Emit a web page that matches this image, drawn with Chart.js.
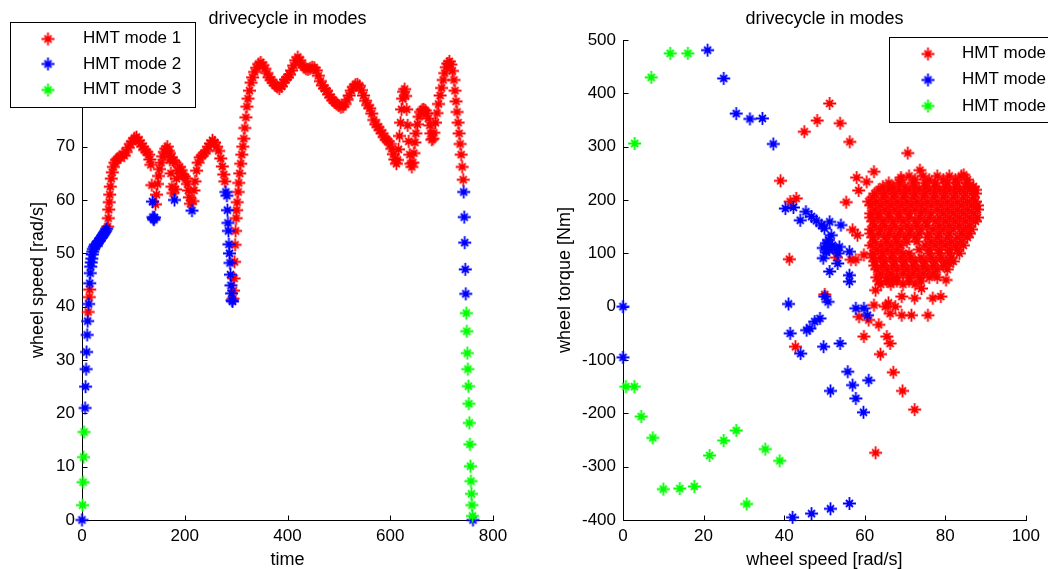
<!DOCTYPE html>
<html>
<head>
<meta charset="utf-8">
<script src="https://cdn.jsdelivr.net/npm/chart.js@4.4.1/dist/chart.umd.min.js"></script>
<style>
  body { margin: 0; background: #fff; }
  #wrap { position: relative; width: 1048px; height: 569px; overflow: hidden; }
  canvas { position: absolute; top: 0; }
  #speedChart { left: 0; }
  #torqueChart { left: 524px; }
</style>
</head>
<body>
<div id="wrap">
  <canvas id="speedChart" width="524" height="569"></canvas>
  <canvas id="torqueChart" width="524" height="569"></canvas>
</div>
<script>
const modeNames = ["HMT mode 1", "HMT mode 2", "HMT mode 3"];
const modeColors = ["#ff0000", "#0000ff", "#00ff00"];

const timeTicks = [0, 200, 400, 600, 800];
const speedTicks = [0, 10, 20, 30, 40, 50, 60, 70, 80, 90];
const wheelTicks = [0, 20, 40, 60, 80, 100];
const torqueTicks = [-400, -300, -200, -100, 0, 100, 200, 300, 400, 500];

// wheel speed over the cycle, [time, rad/s], split by active mode
const speedMode1 = [
  [12, 39.0], [14, 41.8], [15, 43.2],
  [50, 55.0], [51, 56.6], [52, 58.2], [53, 59.6], [54, 61.0], [55, 62.5], [57, 64.0], [59, 65.2],
  [61, 66.2], [64, 67.0], [67, 67.5], [70, 67.8], [74, 68.0], [78, 68.6], [82, 68.3], [86, 69.0],
  [90, 69.8], [94, 70.5], [98, 71.0], [102, 71.6], [106, 71.8], [110, 71.2], [114, 70.6], [118, 70.0],
  [122, 69.4], [126, 69.0], [130, 68.5], [132, 67.6], [134, 66.6], [136, 62.8],
  [143, 59.2], [145, 61.0], [147, 63.0], [149, 64.5], [151, 65.8], [154, 67.0], [157, 68.2],
  [160, 69.0], [163, 69.6], [166, 70.0], [168, 69.2], [170, 68.8], [171, 67.5], [173, 65.0],
  [174, 68.0], [175, 62.5], [177, 61.3], [178, 67.4], [181, 67.0], [182, 62.0], [184, 64.0],
  [187, 65.5], [190, 66.2], [193, 65.6], [196, 64.8], [199, 64.4], [202, 64.0], [205, 63.0],
  [207, 61.8], [209, 60.5], [211, 59.3],
  [216, 59.8], [218, 61.8], [220, 63.5], [223, 65.5], [226, 67.0], [230, 68.0], [234, 68.3],
  [238, 68.8], [242, 69.2], [246, 70.0], [250, 70.6], [254, 71.2], [258, 70.8], [262, 70.0],
  [266, 69.2], [270, 67.8], [273, 66.3], [276, 64.8], [278, 63.5],
  [294, 41.5], [295, 43.0], [296, 45.3], [297, 48.4], [298, 51.6], [299, 54.2], [300, 56.6],
  [301, 58.1], [302, 59.6], [304, 61.5], [305, 63.2], [307, 65.0], [309, 66.8], [311, 68.5],
  [313, 70.0], [315, 71.5], [317, 73.5], [319, 75.5], [321, 77.5], [323, 79.0], [326, 80.5],
  [329, 82.0], [332, 83.0], [336, 84.0], [340, 84.8], [344, 85.5], [348, 85.8], [352, 85.3],
  [356, 84.6], [360, 83.8], [364, 83.0], [368, 82.5], [372, 82.0], [376, 81.5], [380, 81.2],
  [384, 80.9], [388, 81.3], [392, 82.0], [396, 82.6], [400, 83.0], [404, 83.5], [408, 84.3],
  [412, 85.2], [416, 86.2], [420, 86.8], [424, 86.2], [428, 85.4], [432, 84.9], [436, 84.6],
  [440, 84.5], [444, 84.7], [448, 84.9], [452, 84.8], [456, 84.3], [460, 83.3], [464, 82.3],
  [468, 81.5], [472, 80.9], [476, 80.5], [480, 79.8], [484, 79.2], [488, 78.7], [492, 78.3],
  [496, 78.0], [500, 77.7], [504, 77.4], [508, 77.5], [512, 78.0], [516, 78.8], [520, 79.6],
  [524, 80.5], [528, 81.2], [532, 81.6], [536, 81.7], [540, 81.4], [544, 80.6], [548, 79.6],
  [552, 78.6], [556, 77.8], [560, 77.2], [564, 76.2], [568, 75.0], [572, 74.2], [576, 73.7],
  [580, 73.1], [584, 72.5], [588, 71.8], [592, 71.3], [596, 71.0], [600, 70.5], [603, 69.6],
  [606, 68.6], [609, 67.6], [612, 66.8], [614, 67.5], [616, 69.5], [618, 72.0], [620, 74.5],
  [622, 77.0], [624, 79.0], [626, 80.3], [628, 80.8], [630, 79.5], [632, 77.0], [634, 74.0],
  [636, 71.0], [638, 68.5], [640, 66.8], [642, 66.2], [644, 67.0], [646, 68.8], [648, 70.8],
  [650, 72.5], [653, 74.2], [656, 75.6], [659, 76.5], [662, 76.9], [665, 77.0], [668, 76.8],
  [671, 76.2], [674, 75.3], [677, 74.0], [679, 72.5], [681, 71.3], [683, 71.5], [685, 72.6],
  [688, 74.5], [691, 76.3], [694, 78.0], [697, 79.6], [700, 81.0], [703, 82.5], [706, 83.8],
  [709, 84.9], [712, 85.6], [715, 86.0], [718, 85.4], [721, 84.2], [724, 82.5], [726, 80.5],
  [728, 78.5], [730, 76.5], [732, 74.5], [734, 72.5], [736, 70.5], [738, 68.5], [740, 66.2],
  [742, 63.8]
];
const speedMode2 = [
  [0, 0], [6, 21.0], [7, 25.0], [8, 28.3], [9, 31.5], [10, 34.7], [11, 37.3], [13, 40.5],
  [15, 44.4], [16, 46.3], [17, 47.5], [18, 48.3], [19, 49.0], [20, 49.8], [21, 50.3], [22, 50.8],
  [24, 51.2], [26, 51.6], [28, 51.4], [30, 51.9], [32, 52.2], [34, 52.4], [36, 52.8], [38, 53.0],
  [40, 53.3], [42, 53.6], [44, 53.9], [46, 54.2], [48, 54.6],
  [137, 59.7], [138, 56.8], [139, 56.5], [140, 56.3], [141, 56.7],
  [180, 60.0], [214, 58.0],
  [280, 61.5], [282, 60.8], [283, 58.1], [284, 55.7], [285, 54.2], [286, 51.7], [287, 50.0],
  [288, 48.2], [289, 46.0], [290, 44.0], [291, 42.5], [292, 41.2], [293, 41.0],
  [743, 61.5], [744, 56.8], [745, 52.0], [746, 47.0], [747, 42.4], [761, 0]
];
const speedMode3 = [
  [1, 2.8], [2, 7.1], [3, 11.8], [4, 16.5],
  [748, 38.8], [749, 35.4], [750, 31.3], [751, 28.3], [752, 25.1], [753, 21.8], [754, 18.2],
  [755, 14.2], [756, 10.1], [757, 7.3], [758, 4.9], [759, 2.8], [760, 0.75]
];

// operating points, [wheel speed rad/s, wheel torque Nm]
const torqueMode1 = [
  [39.1, 236], [41.5, 197], [43.0, 203], [45.0, 328], [48.2, 349], [51.3, 381], [53.9, 344],
  [56.3, 309], [58.0, 242], [60.5, 234], [62.3, 253], [69.0, 242], [70.7, 288], [73.7, 256],
  [84.6, 247], [86.7, 222], [55.4, 196], [58.5, 218], [57.0, 144], [58.2, 134], [56.6, 88],
  [57.8, 88], [59.8, 97], [41.3, 89], [53.0, 92], [50.1, 23], [42.8, -75], [58.6, -19],
  [61.0, -25], [63.5, -34], [59.8, -56], [65.5, -56], [66.3, -69], [63.9, -89], [67.1, -123],
  [69.4, -158], [72.4, -193], [62.7, -274], [62.3, 3], [65.1, 0], [67.6, 0], [66.3, -13],
  [69.2, -16], [71.6, -16], [75.7, -16], [72.4, 16], [76.9, 16], [78.9, 19], [80.2, 50],
  [81.0, 81], [62.7, 31], [67.1, 50], [69.2, 19], [74.1, 34], [65.9, 7],
  // dense cloud of the main operating region
  [71.0, 245], [74.5, 245], [78.0, 245], [81.0, 245], [84.0, 245],
  [69.0, 238], [72.5, 238], [76.0, 238], [79.5, 238], [82.5, 238], [85.5, 238],
  [66.0, 232], [68.5, 232], [72.0, 232], [75.0, 232], [77.5, 232], [80.5, 232], [83.0, 232], [85.5, 232],
  [64.5, 225], [67.0, 225], [70.0, 225], [72.5, 225], [75.0, 225], [77.5, 225], [80.0, 225],
  [82.5, 225], [85.0, 225], [87.0, 225],
  [63.5, 219], [66.0, 219], [68.5, 219], [71.0, 219], [73.5, 219], [76.0, 219], [78.5, 219],
  [81.0, 219], [83.5, 219], [86.0, 219], [87.5, 219],
  [62.5, 212], [65.0, 212], [67.5, 212], [70.0, 212], [72.5, 212], [75.0, 212], [77.5, 212],
  [80.0, 212], [82.5, 212], [85.0, 212], [87.5, 212],
  [62.0, 205], [64.5, 205], [67.0, 205], [69.5, 205], [72.0, 205], [74.5, 205], [77.0, 205],
  [79.5, 205], [82.0, 205], [84.5, 205], [87.0, 205],
  [61.0, 197], [63.0, 197], [65.5, 197], [68.0, 197], [70.5, 197], [73.0, 197], [75.5, 197],
  [78.0, 197], [80.5, 197], [83.0, 197], [85.5, 197], [87.5, 197],
  [61.5, 190], [64.0, 190], [66.5, 190], [69.0, 190], [71.5, 190], [74.0, 190], [76.5, 190],
  [79.0, 190], [81.5, 190], [84.0, 190], [86.5, 190], [88.0, 190],
  [62.5, 182], [65.0, 182], [67.5, 182], [70.0, 182], [72.5, 182], [75.0, 182], [78.0, 182],
  [80.5, 182], [83.0, 182], [85.5, 182], [88.0, 182],
  [61.5, 175], [63.5, 175], [66.0, 175], [68.5, 175], [71.0, 175], [74.0, 175], [76.5, 175],
  [79.5, 175], [82.0, 175], [84.5, 175], [87.0, 175],
  [61.5, 167], [63.5, 167], [66.0, 167], [68.5, 167], [71.0, 167], [73.5, 167], [76.0, 167],
  [78.5, 167], [81.0, 167], [83.5, 167], [86.0, 167], [88.0, 167],
  [62.0, 160], [64.5, 160], [67.0, 160], [69.5, 160], [72.5, 160], [75.0, 160], [77.5, 160],
  [80.0, 160], [82.5, 160], [85.0, 160], [87.5, 160],
  [62.5, 152], [65.0, 152], [67.5, 152], [70.5, 152], [73.0, 152], [75.5, 152], [78.5, 152],
  [81.0, 152], [83.5, 152], [86.0, 152],
  [61.5, 145], [64.0, 145], [66.5, 145], [69.0, 145], [71.5, 145], [74.0, 145], [77.0, 145],
  [79.5, 145], [82.0, 145], [84.5, 145], [86.5, 145],
  [61.5, 137], [63.5, 137], [66.0, 137], [68.5, 137], [71.0, 137], [73.5, 137], [76.0, 137],
  [78.5, 137], [81.0, 137], [84.0, 137], [86.0, 137],
  [62.0, 130], [65.0, 130], [67.5, 130], [70.0, 130], [72.5, 130], [75.5, 130], [78.0, 130],
  [80.5, 130], [83.0, 130], [85.5, 130],
  [62.5, 122], [65.5, 122], [68.0, 122], [70.5, 122], [73.0, 122], [76.5, 122], [79.0, 122],
  [81.5, 122], [84.0, 122],
  [61.5, 115], [64.0, 115], [66.5, 115], [69.0, 115], [75.0, 115], [77.5, 115], [80.0, 115],
  [82.5, 115], [84.5, 115],
  [63.0, 107], [65.5, 107], [68.0, 107], [73.5, 107], [76.0, 107], [78.5, 107], [81.0, 107], [83.0, 107],
  [62.0, 100], [64.5, 100], [67.0, 100], [69.5, 100], [71.0, 100], [76.0, 100], [78.5, 100],
  [81.0, 100], [83.5, 100],
  [62.0, 92], [64.0, 92], [66.5, 92], [69.0, 92], [71.5, 92], [74.0, 92], [76.5, 92], [79.0, 92], [81.5, 92],
  [62.5, 85], [65.0, 85], [67.5, 85], [70.0, 85], [72.5, 85], [75.0, 85], [77.5, 85], [80.0, 85], [82.0, 85],
  [62.5, 77], [64.5, 77], [67.0, 77], [69.5, 77], [72.0, 77], [74.5, 77], [77.0, 77], [79.5, 77],
  [63.0, 70], [65.5, 70], [68.0, 70], [70.5, 70], [73.0, 70], [75.5, 70], [78.0, 70], [80.5, 70],
  [64.0, 62], [66.5, 62], [69.5, 62], [72.0, 62], [74.5, 62], [77.0, 62],
  [63.0, 55], [65.5, 55], [68.0, 55], [71.0, 55], [73.5, 55], [76.0, 55], [78.0, 55],
  [63.5, 48], [65.5, 48], [68.0, 48], [71.0, 48], [74.0, 48],
  [64.0, 42], [66.5, 42], [69.5, 42], [72.5, 42]
];
const torqueMode2 = [
  [0, 0], [0, -95], [21.0, 481], [25.0, 428], [28.1, 362], [31.5, 352], [34.6, 353], [37.3, 305],
  [40.3, 184], [42.3, 186], [45.4, 178], [44.0, 162], [46.8, 169], [48.0, 161], [49.3, 153],
  [51.3, 159], [54.1, 153], [50.0, 147], [51.7, 134], [51.0, 125], [50.5, 119], [49.7, 110],
  [51.2, 108], [52.9, 106], [50.5, 102], [53.4, 100], [52.0, 115], [53.7, 112], [49.7, 91],
  [53.3, 81], [56.2, 103], [51.3, 66], [56.2, 59], [56.2, 47], [50.1, 19], [50.9, 9], [41.1, 5],
  [57.8, -3], [59.8, -3], [60.7, -16], [48.9, -22], [47.6, -28], [46.4, -41], [45.6, -44],
  [41.5, -50], [49.8, -75], [53.9, -69], [44.1, -88], [55.8, -122], [61.0, -138], [57.0, -147],
  [51.5, -158], [57.8, -172], [59.7, -198], [42.1, -395], [46.8, -388], [51.5, -379], [56.2, -369]
];
const torqueMode3 = [
  [2.9, 306], [7.0, 430], [11.7, 475], [16.1, 475], [0.7, -150], [2.8, -150], [4.5, -206],
  [7.4, -246], [10.0, -342], [14.1, -341], [17.7, -337], [21.5, -279], [25.0, -251], [28.1, -232],
  [30.7, -370], [35.3, -267], [38.9, -289]
];

const fontFamily = "'Liberation Sans', Arial, sans-serif";
Chart.defaults.font.family = fontFamily;
Chart.defaults.color = "#000";

// MATLAB style '*' marker
function asterisk(color) {
  const c = document.createElement("canvas");
  c.width = c.height = 15;
  const g = c.getContext("2d");
  g.strokeStyle = color;
  g.lineWidth = 1.8;
  g.beginPath();
  g.moveTo(1, 7.5); g.lineTo(14, 7.5);
  g.moveTo(7.5, 1); g.lineTo(7.5, 14);
  g.moveTo(4, 4); g.lineTo(11, 11);
  g.moveTo(11, 4); g.lineTo(4, 11);
  g.stroke();
  return c;
}
const markers = modeColors.map(asterisk);

function makeDatasets(series) {
  return series.map((pts, i) => ({
    label: modeNames[i],
    data: pts.map(([x, y]) => ({ x, y })),
    pointStyle: markers[i],
    pointRadius: 6,
    order: 3 - i,
    clip: false
  }));
}

// axis lines with inward tick marks, box off
const axesPlugin = {
  id: "matAxes",
  beforeDatasetsDraw(chart) {
    const { ctx, chartArea: a, scales: { x, y } } = chart;
    const left = Math.round(a.left) + 0.5;
    const bottom = Math.round(a.bottom) + 0.5;
    ctx.save();
    ctx.strokeStyle = "#000";
    ctx.lineWidth = 1;
    ctx.beginPath();
    ctx.moveTo(left, Math.round(a.top));
    ctx.lineTo(left, bottom);
    ctx.lineTo(Math.round(a.right) + 1, bottom);
    x.ticks.forEach(t => {
      const px = Math.round(x.getPixelForValue(t.value)) + 0.5;
      ctx.moveTo(px, bottom);
      ctx.lineTo(px, bottom - 5);
    });
    y.ticks.forEach(t => {
      const py = Math.round(y.getPixelForValue(t.value)) + 0.5;
      ctx.moveTo(left, py);
      ctx.lineTo(left + 5, py);
    });
    ctx.stroke();
    ctx.restore();
  }
};

// opaque legend box laid over the axes
function legendPlugin(box) {
  return {
    id: "modeLegend",
    afterDraw(chart) {
      const ctx = chart.ctx;
      ctx.save();
      ctx.fillStyle = "#fff";
      ctx.fillRect(box.x, box.y, box.w, box.h);
      ctx.strokeStyle = "#000";
      ctx.lineWidth = 1;
      ctx.strokeRect(box.x + 0.5, box.y + 0.5, box.w, box.h);
      ctx.font = "17px " + fontFamily;
      ctx.textBaseline = "middle";
      ctx.fillStyle = "#000";
      chart.data.datasets.forEach((ds, i) => {
        const rowY = box.y + box.first + i * box.gap;
        ctx.drawImage(ds.pointStyle, box.markerX - 7.5, Math.round(rowY) - 7.5);
        ctx.fillText(ds.label, box.textX, rowY);
      });
      ctx.restore();
    }
  };
}

function makeOptions(cfg) {
  return {
    responsive: false,
    animation: false,
    events: [],
    layout: { padding: { left: 0, right: cfg.padRight, top: 10, bottom: 0 } },
    plugins: {
      legend: { display: false },
      tooltip: { enabled: false },
      title: {
        display: true,
        text: "drivecycle in modes",
        fullSize: false,
        color: "#000",
        font: { size: 18, weight: "normal", lineHeight: 1 },
        padding: { top: 0, bottom: 12 }
      }
    },
    scales: {
      x: {
        type: "linear",
        min: cfg.xTicks[0],
        max: cfg.xTicks[cfg.xTicks.length - 1],
        afterBuildTicks: s => { s.ticks = cfg.xTicks.map(v => ({ value: v })); },
        afterFit: s => { s.height = 49; },
        grid: { display: false, drawTicks: false },
        border: { display: false },
        ticks: { color: "#000", font: { size: 17, lineHeight: 1 }, padding: 8, maxRotation: 0, autoSkip: false },
        title: {
          display: true, text: cfg.xLabel, color: "#000",
          font: { size: 18, lineHeight: 1 }, padding: { top: 0, bottom: 0 }
        }
      },
      y: {
        type: "linear",
        min: cfg.yTicks[0],
        max: cfg.yTicks[cfg.yTicks.length - 1],
        afterBuildTicks: s => { s.ticks = cfg.yTicks.map(v => ({ value: v })); },
        afterFit: s => { s.width = cfg.yWidth; },
        grid: { display: false, drawTicks: false },
        border: { display: false },
        ticks: { color: "#000", font: { size: 17, lineHeight: 1 }, padding: 7, autoSkip: false },
        title: {
          display: true, text: cfg.yLabel, color: "#000",
          font: { size: 18, lineHeight: 1 }, padding: { top: cfg.yTitlePad, bottom: 0 }
        }
      }
    }
  };
}

new Chart(document.getElementById("speedChart"), {
  type: "scatter",
  data: { datasets: makeDatasets([speedMode1, speedMode2, speedMode3]) },
  options: makeOptions({
    xTicks: timeTicks, yTicks: speedTicks,
    xLabel: "time", yLabel: "wheel speed [rad/s]",
    yWidth: 82, padRight: 31, yTitlePad: 29
  }),
  plugins: [axesPlugin, legendPlugin({ x: 10, y: 22, w: 185, h: 85, first: 16.5, gap: 25.5, markerX: 48, textX: 83 })]
});

new Chart(document.getElementById("torqueChart"), {
  type: "scatter",
  data: { datasets: makeDatasets([torqueMode1, torqueMode2, torqueMode3]) },
  options: makeOptions({
    xTicks: wheelTicks, yTicks: torqueTicks,
    xLabel: "wheel speed [rad/s]", yLabel: "wheel torque [Nm]",
    yWidth: 99, padRight: 15, yTitlePad: 32
  }),
  plugins: [axesPlugin, legendPlugin({ x: 365, y: 37, w: 220, h: 85, first: 16.5, gap: 26.3, markerX: 404, textX: 438 })]
});
</script>
</body>
</html>
